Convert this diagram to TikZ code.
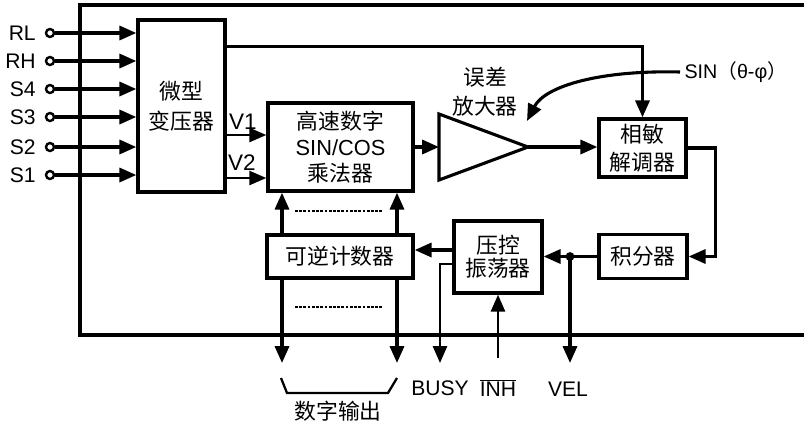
\documentclass[tikz,border=0pt]{standalone}
\usepackage{fontspec}
\setmainfont{Liberation Sans}
\newfontfamily\cjk{Noto Sans CJK SC}
\usetikzlibrary{arrows.meta,calc,positioning}
\tikzset{box/.style={draw,line width=2.4pt,fill=white,align=center,inner sep=0pt,font=\cjk\fontsize{15.5}{21}\selectfont},
  arr/.style={-{Triangle[length=12pt,width=10pt]},line width=2.2pt},
  term/.style={circle,draw,line width=1.7pt,fill=white,minimum size=0.2cm,inner sep=0pt},
  lbl/.style={inner sep=0pt},
  dot/.style={circle,fill,minimum size=0.22cm,inner sep=0pt},
  bus/.style={line width=1.6pt,dash pattern=on 2pt off 1pt}}

\begin{document}
\begin{tikzpicture}[x=0.025cm,y=-0.025cm,font=\fontsize{15}{19}\selectfont]
\useasboundingbox (0,0) rectangle (804,423);
% frame of the converter (open to the right)
\draw[line width=2.2pt] (804,5) -- (80,5) -- (80,335) -- (804,335);

% blocks
\node[box,minimum width=2.175cm,minimum height=4.3cm] (tfm) at (181.5,106) {微型\\变压器};
\node[box,minimum width=3.625cm,minimum height=2.2cm,font=\cjk\fontsize{15.5}{18.5}\selectfont] (mul) at (340.5,147)
  {高速数字\\{\rmfamily\fontsize{15.5}{18.5}\selectfont SIN/COS}\\乘法器};
\node[box,minimum width=2.175cm,minimum height=1.45cm,font=\cjk\fontsize{15.5}{20}\selectfont] (dem) at (642.5,148) {相敏\\解调器};
\node[box,minimum width=2.2cm,minimum height=1.1cm] (int) at (643,256.5) {积分器};
\node[box,minimum width=2.2cm,minimum height=1.8cm,font=\cjk\fontsize{15.5}{16.5}\selectfont] (vco) at (498,257) {压控\\振荡器};
\node[box,minimum width=3.65cm,minimum height=1.075cm] (cnt) at (340,256.5) {可逆计数器};

% error amplifier
\draw[line width=2.2pt,fill=white] (439,114) -- (528,147) -- (439,180) -- cycle;
\coordinate (ampin) at (439,147);
\coordinate (ampout) at (528,147);
\node[lbl,align=center,font=\cjk\fontsize{15.5}{20.6}\selectfont] (amplbl) at (485,92) {误差\\放大器};

% resolver inputs
\foreach \n/\y in {RL/33,RH/61,S4/89,S3/117,S2/147,S1/175}{
  \node[term] (t\n) at (50,\y) {};
  \node[lbl,left=0.22cm of t\n,font=\fontsize{15}{17}\selectfont] {\n};
  \draw[arr] (t\n) -- (t\n -| tfm.west);
}

% rows used by several connectors
\coordinate (v1) at (0,135);
\coordinate (v2) at (0,178);
\coordinate (cntrow) at (0,250);
\coordinate (busyrow) at (0,264);
\coordinate (outrow) at (0,363);
\coordinate (b1) at (282,0);
\coordinate (b2) at (397,0);

\draw[arr,line width=1.5pt] (tfm.east |- v1) -- (mul.west |- v1);
\draw[arr,line width=1.5pt] (tfm.east |- v2) -- (mul.west |- v2);
\node[lbl,font=\fontsize{16}{19}\selectfont] (v1l) at (243,122) {V1};
\node[lbl,font=\fontsize{16}{19}\selectfont] (v2l) at (242,163) {V2};

\draw[arr] (mul.east) -- (ampin);
\draw[arr] (ampout) -- (ampout -| dem.west);
\draw[arr] ($(tfm.north east)+(0,28)$) -| (dem);

% reference signal
\node[inner sep=3pt,anchor=west,font=\fontsize{14}{16}\selectfont] (sinin) at (680,72) {SIN{\cjk （}θ-φ{\cjk ）}};
\draw[arr] (sinin.west) .. controls (600,70) and (545,86) .. (527,121);

\draw[arr] (dem.east) -- ++(28,0) |- (int.east);
\draw[arr] (int.west) -- (int.west -| vco.east);
\node[dot] (vj) at (570,256.5) {};
\draw[arr] (vj.center) -- (vj |- outrow);
\draw[arr] (vco.west |- cntrow) -- (cnt.east |- cntrow);

% status / control pins
\coordinate (busyend) at (440,363);
\coordinate (inhend) at (498,358);
\draw[arr,line width=1.7pt] (vco.west |- busyrow) -| (busyend);
\draw[arr,line width=1.7pt] (inhend) -- (inhend |- vco.south);
\node[lbl] (busy) at (440,388) {BUSY};
\node[lbl] (inh) at (498,388) {$\overline{\mbox{INH}}$};
\node[lbl] (vel) at (568,389) {VEL};

% digital output bus
\foreach \b in {b1,b2}{
  \draw[arr] (\b |- cnt.north) -- (\b |- mul.south);
  \draw[arr] (\b |- cnt.south) -- (\b |- outrow);
}
\draw[bus] (295,211) -- (382,211);
\draw[bus] (295,307) -- (382,307);
\draw[line width=1.6pt] (281,378) -- (287,393) -- (388,393) -- (397,378);
\node[lbl,font=\cjk\fontsize{15.5}{18}\selectfont] (dout) at (338,411) {数字输出};
\end{tikzpicture}
\end{document}
